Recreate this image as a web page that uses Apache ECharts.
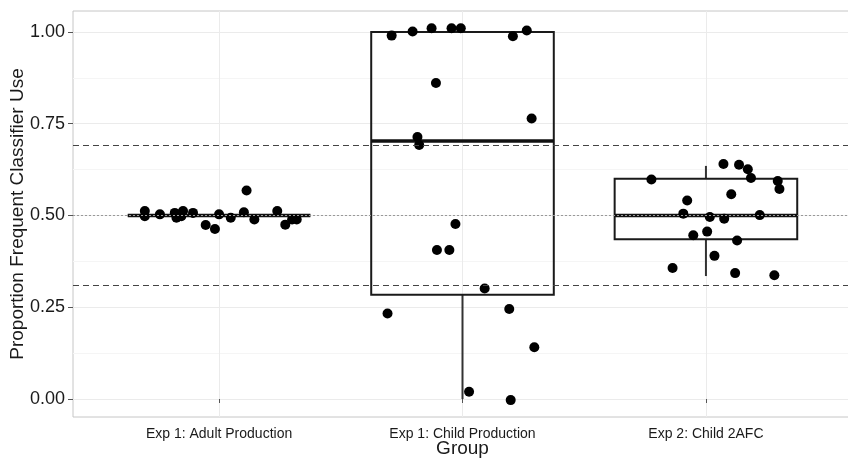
<!DOCTYPE html>
<html>
<head>
<meta charset="utf-8">
<title>Proportion Frequent Classifier Use by Group</title>
<script src="https://cdn.jsdelivr.net/npm/echarts@6/dist/echarts.min.js"></script>
<style>
  html, body { margin: 0; padding: 0; background: #fff; }
  #chart { width: 848px; height: 460px; }
</style>
</head>
<body>
<div id="chart"></div>
<script>
// categories on the x axis (positions 1, 2, 3)
var categories = ['Exp 1: Adult Production', 'Exp 1: Child Production', 'Exp 2: Child 2AFC'];
var yTicks = [0, 0.25, 0.5, 0.75, 1];
var yMinorTicks = [0.125, 0.375, 0.625, 0.875];

// box stats per group: [min, q1, median, q3, max]
var adultBox = [0.5, 0.5, 0.5, 0.5, 0.5];
var childProdBox = [0.0, 0.284, 0.703, 1.0, 1.0];
var child2afcBox = [0.335, 0.435, 0.5, 0.6, 0.635];

// jittered points (x in axis units, y = proportion)
var adultX = [0.695, 0.695, 0.757, 0.818, 0.825, 0.852, 0.845, 0.893, 0.945, 0.983, 1.0, 1.048, 1.113, 1.102, 1.145, 1.239, 1.272, 1.3, 1.319];
var adultY = [0.512, 0.498, 0.503, 0.507, 0.494, 0.512, 0.498, 0.507, 0.474, 0.463, 0.503, 0.494, 0.568, 0.509, 0.489, 0.512, 0.475, 0.489, 0.489];

var childProdX = [1.709, 1.795, 1.873, 1.955, 1.993, 2.207, 2.264, 1.891, 2.284, 1.815, 1.822, 1.971, 1.895, 1.946, 2.091, 1.692, 2.192, 2.295, 2.027, 2.198];
var childProdY = [0.990, 1.001, 1.010, 1.010, 1.010, 0.988, 1.004, 0.861, 0.764, 0.714, 0.692, 0.477, 0.406, 0.406, 0.301, 0.233, 0.245, 0.141, 0.020, -0.003];

var child2afcX = [3.072, 3.136, 3.172, 3.185, 2.776, 3.295, 3.302, 3.104, 2.923, 2.907, 3.016, 3.075, 3.221, 3.005, 2.948, 3.128, 3.035, 2.863, 3.12, 3.281];
var child2afcY = [0.640, 0.638, 0.626, 0.602, 0.598, 0.594, 0.572, 0.558, 0.541, 0.505, 0.496, 0.491, 0.501, 0.456, 0.446, 0.432, 0.390, 0.357, 0.343, 0.337];

// reference lines
var chanceLine = 0.5;
var bandLines = [0.31, 0.69];

var boxes = [adultBox, childProdBox, child2afcBox].map(function (b, i) {
  return [i + 1].concat(b);
});
var points = [];
[[adultX, adultY], [childProdX, childProdY], [child2afcX, child2afcY]].forEach(function (g) {
  for (var i = 0; i < g[0].length; i++) points.push([g[0][i], g[1][i]]);
});

function renderBox(params, api) {
  var x = api.value(0);
  var half = 0.375;
  var pMin = api.coord([x, api.value(1)]);
  var pQ1 = api.coord([x, api.value(2)]);
  var pMed = api.coord([x, api.value(3)]);
  var pQ3 = api.coord([x, api.value(4)]);
  var pMax = api.coord([x, api.value(5)]);
  var left = api.coord([x - half, 0])[0];
  var right = api.coord([x + half, 0])[0];
  return {
    type: 'group',
    children: [
      { type: 'line', shape: { x1: pMax[0], y1: pMax[1], x2: pQ3[0], y2: pQ3[1] }, style: { stroke: '#333', lineWidth: 2 } },
      { type: 'line', shape: { x1: pQ1[0], y1: pQ1[1], x2: pMin[0], y2: pMin[1] }, style: { stroke: '#333', lineWidth: 2 } },
      { type: 'rect', shape: { x: left, y: pQ3[1], width: right - left, height: pQ1[1] - pQ3[1] }, style: { fill: 'none', stroke: '#1a1a1a', lineWidth: 2 } },
      { type: 'line', shape: { x1: left, y1: pMed[1], x2: right, y2: pMed[1] }, style: { stroke: '#111', lineWidth: 3.4 } }
    ]
  };
}

var chart = echarts.init(document.getElementById('chart'), null, { renderer: 'canvas' });
chart.setOption({
  animation: false,
  grid: {
    left: 73, top: 11, width: 779, height: 406,
    outerBoundsMode: 'none', containLabel: false,
    show: true, borderColor: '#c6c6c6', borderWidth: 1, backgroundColor: 'transparent'
  },
  xAxis: {
    type: 'value', min: 0.4, max: 3.6,
    name: 'Group', nameLocation: 'middle', nameGap: 22, nameMoveOverlap: false,
    nameTextStyle: { fontSize: 19, color: '#1a1a1a', fontFamily: 'Liberation Sans' },
    axisLine: { show: false },
    axisTick: { show: true, customValues: [1, 2, 3], length: 4, lineStyle: { color: '#555' } },
    axisLabel: {
      customValues: [1, 2, 3], margin: 10, fontSize: 14, color: '#1a1a1a', fontFamily: 'Liberation Sans',
      formatter: function (v) { return categories[Math.round(v) - 1]; }
    },
    splitLine: { show: true, lineStyle: { color: '#ebebeb', width: 1 } }
  },
  yAxis: [{
    type: 'value', min: -0.049, max: 1.057,
    name: 'Proportion Frequent Classifier Use', nameLocation: 'middle', nameGap: 46, nameMoveOverlap: false,
    nameTextStyle: { fontSize: 19, color: '#1a1a1a', fontFamily: 'Liberation Sans' },
    axisLine: { show: false },
    axisTick: { show: true, customValues: yTicks, length: 5, lineStyle: { color: '#555' } },
    axisLabel: {
      customValues: yTicks, margin: 8, fontSize: 18, color: '#1a1a1a', fontFamily: 'Liberation Sans',
      formatter: function (v) { return v.toFixed(2); }
    },
    splitLine: { show: true, lineStyle: { color: '#ebebeb', width: 1 } }
  }, {
    type: 'value', min: -0.049, max: 1.057, position: 'left',
    axisLine: { show: false },
    axisTick: { show: false, customValues: yMinorTicks },
    axisLabel: { show: false, customValues: yMinorTicks },
    splitLine: { show: true, lineStyle: { color: '#f5f5f5', width: 1 } }
  }],
  series: [{
    type: 'custom',
    renderItem: renderBox,
    data: boxes,
    encode: { x: 0, y: [1, 2, 3, 4, 5] },
    z: 2,
    silent: true
  }, {
    type: 'line',
    data: [],
    z: 3,
    markLine: {
      silent: true, symbol: 'none', label: { show: false },
      data: [
        { yAxis: chanceLine, lineStyle: { color: '#999', type: [2, 2], width: 1 } },
        { yAxis: bandLines[0], lineStyle: { color: '#444', type: [6, 4], width: 1.2 } },
        { yAxis: bandLines[1], lineStyle: { color: '#444', type: [6, 4], width: 1.2 } }
      ]
    }
  }, {
    type: 'scatter',
    data: points,
    symbolSize: 10,
    itemStyle: { color: '#000', opacity: 1 },
    z: 4
  }]
});
</script>
</body>
</html>
